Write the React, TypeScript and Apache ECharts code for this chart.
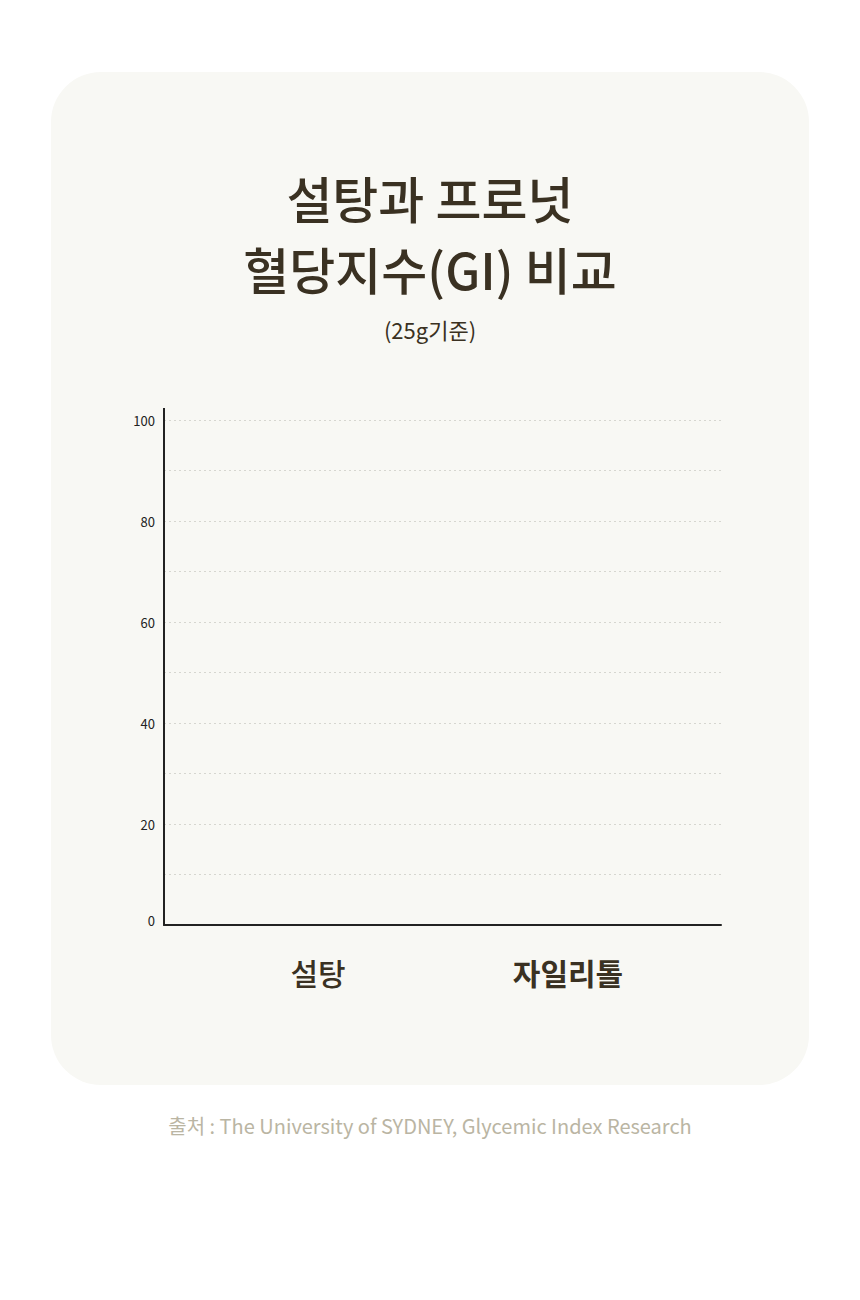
import { useEffect, useRef } from 'react';
import * as echarts from 'echarts';

const categories = ['설탕', '자일리톨'];
// no bars are drawn in the reference, so both values are 0
const giValues = [0, 0];
const yMin = 0;
const yMax = 100;
const yInterval = 10;
const titleLines = ['설탕과 프로넛', '혈당지수(GI) 비교'];
const subtitle = '(25g기준)';
const source = '출처 : The University of SYDNEY, Glycemic Index Research';

const FONT = '"Noto Sans CJK KR", "Noto Sans", sans-serif';
const DARK = '#3a3122';

export default function App() {
  const chartRef = useRef<HTMLDivElement>(null);

  useEffect(() => {
    document.body.style.margin = '0';
    if (!chartRef.current) return;
    const chart = echarts.init(chartRef.current, undefined, { renderer: 'svg' });

    const centerText = (text: string, y: number, font: string, fill: string) => ({
      type: 'text',
      x: 430,
      y,
      style: { text, fill, font, textAlign: 'center', textVerticalAlign: 'middle' },
    });

    chart.setOption({
      animation: false,
      backgroundColor: '#ffffff',
      textStyle: { fontFamily: FONT },
      graphic: [
        {
          type: 'rect',
          z: -10,
          shape: { x: 51, y: 72, width: 758, height: 1013, r: 50 },
          style: { fill: '#f8f8f4' },
        },
        centerText(titleLines[0], 197, `500 50px ${FONT}`, DARK),
        centerText(titleLines[1], 268, `500 50px ${FONT}`, DARK),
        centerText(subtitle, 329, `400 22px ${FONT}`, DARK),
        centerText(source, 1125, `400 20px ${FONT}`, '#bab5a3'),
        // y axis line extends a bit above the 100 tick
        {
          type: 'line',
          shape: { x1: 164, y1: 408, x2: 164, y2: 421 },
          style: { stroke: '#222222', lineWidth: 2 },
        },
      ],
      grid: [
        { left: 164, right: 139, top: 420, bottom: 375 },
        { left: 193, right: 167, top: 420, bottom: 375 },
      ],
      xAxis: [
        {
          type: 'category',
          gridIndex: 0,
          data: categories,
          axisLine: { show: true, lineStyle: { color: '#222222', width: 2 } },
          axisTick: { show: false },
          axisLabel: { show: false },
          splitLine: { show: false },
        },
        {
          type: 'category',
          gridIndex: 1,
          data: categories,
          axisLine: { show: false },
          axisTick: { show: false },
          splitLine: { show: false },
          axisLabel: {
            margin: 32,
            formatter: (v: string) => (v === categories[1] ? `{b|${v}}` : `{a|${v}}`),
            rich: {
              a: { fontSize: 30, fontWeight: 500, color: DARK, fontFamily: FONT },
              b: { fontSize: 30, fontWeight: 700, color: DARK, fontFamily: FONT },
            },
          },
        },
      ],
      yAxis: [
        {
          type: 'value',
          gridIndex: 0,
          min: yMin,
          max: yMax,
          interval: yInterval,
          axisLine: { show: true, lineStyle: { color: '#222222', width: 2 } },
          axisTick: { show: false },
          axisLabel: {
            margin: 9,
            color: '#222222',
            fontSize: 13,
            fontFamily: FONT,
            formatter: (v: number) => (v % 20 === 0 ? (v === 0 ? '{z|0}' : String(v)) : ''),
            rich: { z: { fontSize: 13, color: '#222222', padding: [0, 0, 10, 0] } },
          },
          splitLine: {
            show: true,
            lineStyle: { color: '#d6d6d0', type: [2, 3], width: 1 },
          },
        },
        {
          type: 'value',
          gridIndex: 1,
          min: yMin,
          max: yMax,
          interval: yInterval,
          show: false,
          splitLine: { show: false },
        },
      ],
      series: [
        {
          type: 'bar',
          xAxisIndex: 1,
          yAxisIndex: 1,
          data: giValues,
          barWidth: 110,
          itemStyle: { color: '#8a7a5c' },
        },
      ],
    });

    return () => chart.dispose();
  }, []);

  return <div ref={chartRef} style={{ width: 860, height: 1300 }} />;
}
